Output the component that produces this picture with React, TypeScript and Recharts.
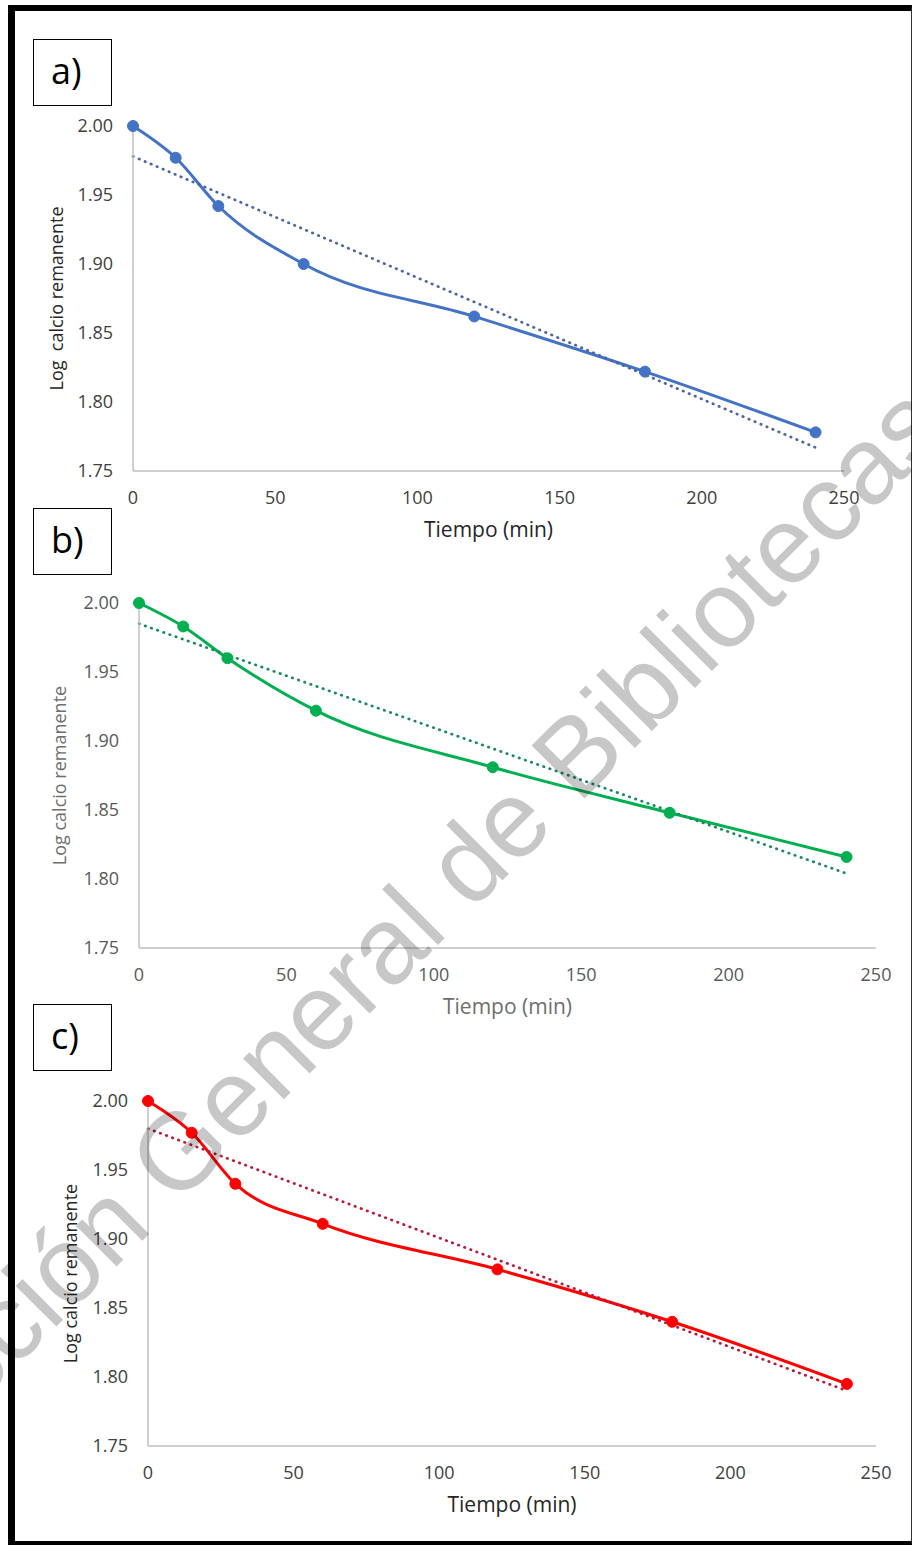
import { LineChart, Line, XAxis, YAxis, Label } from "recharts";

// tiempo de muestreo (min) and log of remaining calcium per panel
const tiempo = [0, 15, 30, 60, 120, 180, 240];
const logCaA = [2.0, 1.977, 1.942, 1.9, 1.862, 1.822, 1.778];
const logCaB = [2.0, 1.983, 1.96, 1.922, 1.881, 1.848, 1.816];
const logCaC = [2.0, 1.977, 1.94, 1.911, 1.878, 1.84, 1.795];

// linear trendline end points
const trendX = [0, 240];
const trendA = [1.978, 1.767];
const trendB = [1.985, 1.804];
const trendC = [1.98, 1.79];

const xTicks = [0, 50, 100, 150, 200, 250];
const yTicks = [1.75, 1.8, 1.85, 1.9, 1.95, 2.0];

const FONT = "'Open Sans', 'Liberation Sans', sans-serif";

const toRows = (xs: number[], ys: number[]) => xs.map((x, i) => ({ x, y: ys[i] }));

type PanelProps = {
  top: number;
  plotLeft: number;
  plotRight: number;
  plotTop: number;
  plotBottom: number;
  values: number[];
  trend: number[];
  color: string;
  trendColor: string;
  tickColor: string;
  titleColor: string;
  yTitle: string;
  yTitleX: number;
};

const W = 912;
const H = 470;
const Y_W = 60;
const X_H = 30;

function Panel(p: PanelProps) {
  const data = toRows(tiempo, p.values);
  const trendData = toRows(trendX, p.trend);
  const localBottom = p.plotBottom - p.top;
  const margin = {
    top: p.plotTop - p.top,
    left: p.plotLeft - Y_W,
    right: W - p.plotRight,
    bottom: H - localBottom - X_H,
  };
  const tick = { fontSize: 18, fill: p.tickColor, fontFamily: FONT };

  return (
    <div style={{ position: "absolute", left: 0, top: p.top, width: W, height: H }}>
      <LineChart width={W} height={H} data={data} margin={margin}>
        <XAxis
          dataKey="x"
          type="number"
          domain={[0, 250]}
          ticks={xTicks}
          height={X_H}
          tickLine={false}
          tickSize={0}
          tickMargin={20}
          axisLine={{ stroke: "#bfbfbf", strokeWidth: 1.5 }}
          tick={tick}
        >
          <Label
            content={(lp: any) => {
              const vb = lp.viewBox || { x: p.plotLeft, y: localBottom, width: p.plotRight - p.plotLeft };
              return (
                <text
                  x={vb.x + vb.width / 2}
                  y={vb.y + 66}
                  textAnchor="middle"
                  fontSize={21}
                  fontFamily={FONT}
                  fill={p.titleColor}
                >
                  Tiempo (min)
                </text>
              );
            }}
          />
        </XAxis>
        <YAxis
          type="number"
          domain={[1.75, 2.0]}
          ticks={yTicks}
          width={Y_W}
          tickLine={false}
          tickSize={0}
          tickMargin={20}
          axisLine={{ stroke: "#bfbfbf", strokeWidth: 1.5 }}
          tick={tick}
          tickFormatter={(v: number) => v.toFixed(2)}
        >
          <Label
            content={(lp: any) => {
              const vb = lp.viewBox || { y: p.plotTop - p.top, height: p.plotBottom - p.plotTop };
              const cy = vb.y + vb.height / 2;
              return (
                <text
                  x={p.yTitleX}
                  y={cy}
                  transform={`rotate(-90, ${p.yTitleX}, ${cy})`}
                  textAnchor="middle"
                  fontSize={18}
                  fontFamily={FONT}
                  fill={p.titleColor}
                  style={{ whiteSpace: "pre" }}
                >
                  {p.yTitle}
                </text>
              );
            }}
          />
        </YAxis>
        <Line
          dataKey="y"
          type="monotone"
          stroke={p.color}
          strokeWidth={3}
          dot={{ r: 5.5, fill: p.color, stroke: p.color, strokeWidth: 1 }}
          activeDot={false}
          isAnimationActive={false}
        />
        <Line
          data={trendData}
          dataKey="y"
          type="linear"
          stroke={p.trendColor}
          strokeWidth={2.7}
          strokeDasharray="0.5 6"
          strokeLinecap="round"
          dot={false}
          activeDot={false}
          isAnimationActive={false}
        />
      </LineChart>
    </div>
  );
}

function PanelTag({ top, text }: { top: number; text: string }) {
  return (
    <div
      style={{
        position: "absolute",
        left: 33,
        top,
        width: 79,
        height: 67,
        boxSizing: "border-box",
        border: "1.5px solid #000",
        background: "#fff",
        fontFamily: FONT,
        fontSize: 36,
        lineHeight: 1,
        paddingTop: 13,
        paddingLeft: 17,
        color: "#000",
      }}
    >
      {text}
    </div>
  );
}

export default function App() {
  return (
    <div
      style={{
        position: "absolute",
        left: 0,
        top: 0,
        width: 912,
        height: 1545,
        overflow: "hidden",
        background: "#fff",
      }}
    >
      <div
        style={{
          position: "absolute",
          left: 8,
          top: 5,
          width: 904,
          height: 1540,
          boxSizing: "border-box",
          borderTop: "6px solid #000",
          borderLeft: "7px solid #000",
          borderBottom: "4px solid #000",
          borderRight: "1px solid #333",
        }}
      />
      <Panel
        top={90}
        plotLeft={133}
        plotRight={844}
        plotTop={126}
        plotBottom={471}
        values={logCaA}
        trend={trendA}
        color="#4472C4"
        trendColor="#4a64a6"
        tickColor="#404040"
        titleColor="#262626"
        yTitle="Log  calcio remanente"
        yTitleX={63}
      />
      <Panel
        top={570}
        plotLeft={139}
        plotRight={876}
        plotTop={603}
        plotBottom={948}
        values={logCaB}
        trend={trendB}
        color="#00B050"
        trendColor="#1a8a5c"
        tickColor="#595959"
        titleColor="#6e6e6e"
        yTitle="Log calcio remanente"
        yTitleX={66}
      />
      <Panel
        top={1065}
        plotLeft={148}
        plotRight={876}
        plotTop={1101}
        plotBottom={1446}
        values={logCaC}
        trend={trendC}
        color="#FF0000"
        trendColor="#b81a3c"
        tickColor="#404040"
        titleColor="#262626"
        yTitle="Log calcio remanente"
        yTitleX={77}
      />
      <PanelTag top={39} text="a)" />
      <PanelTag top={508} text="b)" />
      <PanelTag top={1004} text="c)" />
      <svg
        width={912}
        height={1545}
        style={{ position: "absolute", left: 0, top: 0, pointerEvents: "none" }}
      >
        <text
          x={392}
          y={991}
          transform="rotate(-45 392 991)"
          textAnchor="middle"
          fontFamily="'Liberation Sans', Arial, sans-serif"
          fontSize={109}
          fill="rgba(0,0,0,0.22)"
        >
          Dirección General de Bibliotecas
        </text>
      </svg>
    </div>
  );
}
